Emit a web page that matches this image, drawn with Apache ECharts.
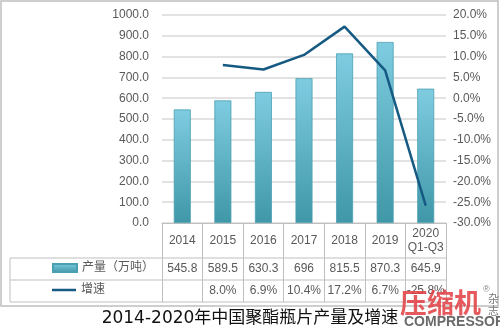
<!DOCTYPE html>
<html>
<head>
<meta charset="utf-8">
<script src="https://cdn.jsdelivr.net/npm/echarts@6/dist/echarts.min.js"></script>
<style>
  html, body { margin: 0; padding: 0; background: #fff; }
  #chart { width: 500px; height: 328px; }
</style>
</head>
<body>
<div id="chart"></div>
<script>
// Categories (years) and the two series
const categories = ['2014', '2015', '2016', '2017', '2018', '2019', '2020\nQ1-Q3'];
const production = [545.8, 589.5, 630.3, 696, 815.5, 870.3, 645.9];   // 产量（万吨）
const growth = [null, 8.0, 6.9, 10.4, 17.2, 6.7, -25.8];              // 增速 (%)

// Axis scales
const leftAxis = { min: 0, max: 1000, interval: 100 };
const rightAxis = { min: -30, max: 20, interval: 5 };

const TEXT = '#595959';
const RULE = '#bfbfbf';
const FONT = 'Liberation Sans, Arial, Noto Sans CJK SC, sans-serif';

const G = { left: 162, right: 54, top: 15, bottom: 105 };
const W = 500, H = 328;
const tableTop = H - G.bottom;       // top edge of the data table (x axis line)
const rowY = [258, 280, 302];         // horizontal rules of the table
const tableLeft = 10, tableRight = W - G.right;

const fmtGrowth = v => (v === null || v === undefined) ? '' : v.toFixed(1) + '%';

const chart = echarts.init(document.getElementById('chart'), null, { renderer: 'canvas' });

const hiddenAxis = {
  type: 'category', data: categories, position: 'bottom', gridIndex: 0,
  axisLine: { show: false }, axisTick: { show: false }, splitLine: { show: false }
};

chart.setOption({
  animation: false,
  backgroundColor: '#fff',
  textStyle: { fontFamily: FONT },
  title: {
    text: '2014-2020年中国聚酯瓶片产量及增速',
    left: 'center', top: 305,
    textStyle: { fontFamily: 'DejaVu Sans, Noto Sans CJK SC, sans-serif', fontSize: 17, fontWeight: 'normal', color: '#111' }
  },
  legend: [
    {
      data: [{ name: '产量（万吨）', icon: 'rect' }], left: 52, top: 262, padding: 0,
      itemWidth: 24, itemHeight: 8, textStyle: { color: TEXT, fontSize: 12, fontFamily: FONT }
    },
    {
      data: [{ name: '增速', icon: 'rect' }], left: 52, top: 284, padding: 0,
      itemWidth: 24, itemHeight: 2.5, textStyle: { color: TEXT, fontSize: 12, fontFamily: FONT }
    }
  ],
  grid: { left: G.left, right: G.right, top: G.top, bottom: G.bottom, containLabel: false },
  xAxis: [
    {
      type: 'category', data: categories, position: 'bottom',
      axisLine: { show: true, lineStyle: { color: RULE, width: 1 } },
      axisTick: { show: true, length: rowY[2] - tableTop, lineStyle: { color: RULE, width: 1 } },
      axisLabel: { interval: 0, color: TEXT, fontSize: 12, margin: 18, verticalAlign: 'middle', lineHeight: 14, fontFamily: FONT }
    },
    Object.assign({}, hiddenAxis, {
      axisLabel: { interval: 0, color: TEXT, fontSize: 12, margin: 46, verticalAlign: 'middle', fontFamily: FONT,
        formatter: (v, i) => String(production[i]) }
    }),
    Object.assign({}, hiddenAxis, {
      axisLabel: { interval: 0, color: TEXT, fontSize: 12, margin: 68, verticalAlign: 'middle', fontFamily: FONT,
        formatter: (v, i) => fmtGrowth(growth[i]) }
    })
  ],
  yAxis: [
    {
      type: 'value', min: leftAxis.min, max: leftAxis.max, interval: leftAxis.interval,
      axisLine: { show: false }, axisTick: { show: false },
      axisLabel: { color: TEXT, fontSize: 12, margin: 13, fontFamily: FONT, formatter: v => v.toFixed(1) },
      splitLine: { show: true, lineStyle: { color: '#d9d9d9', width: 1.5 } }
    },
    {
      type: 'value', min: rightAxis.min, max: rightAxis.max, interval: rightAxis.interval,
      axisLine: { show: false }, axisTick: { show: false },
      axisLabel: { color: TEXT, fontSize: 12, margin: 7, fontFamily: FONT, formatter: v => v.toFixed(1) + '%' },
      splitLine: { show: false }
    }
  ],
  series: [
    {
      name: '产量（万吨）', type: 'bar', data: production, barWidth: 17,
      itemStyle: {
        color: new echarts.graphic.LinearGradient(0, 0, 0, 1, [
          { offset: 0, color: '#7fcce1' },
          { offset: 1, color: '#3f97a7' }
        ]),
        borderColor: '#4b9fb2', borderWidth: 0.8
      }
    },
    {
      name: '增速', type: 'line', yAxisIndex: 1, data: growth,
      symbol: 'none', lineStyle: { color: '#165a83', width: 2.5 }, itemStyle: { color: '#165a83' }
    }
  ],
  graphic: [
    // outer frame
    { type: 'rect', shape: { x: 1, y: 1, width: 497, height: 305 }, style: { fill: null, stroke: RULE, lineWidth: 1.5 }, silent: true },
    // table rules
    { type: 'line', shape: { x1: tableLeft, y1: rowY[0], x2: tableRight, y2: rowY[0] }, style: { stroke: RULE, lineWidth: 1 } },
    { type: 'line', shape: { x1: tableLeft, y1: rowY[1], x2: tableRight, y2: rowY[1] }, style: { stroke: RULE, lineWidth: 1 } },
    { type: 'line', shape: { x1: tableLeft, y1: rowY[2], x2: tableRight, y2: rowY[2] }, style: { stroke: RULE, lineWidth: 1 } },
    { type: 'line', shape: { x1: tableLeft, y1: rowY[0], x2: tableLeft, y2: rowY[2] }, style: { stroke: RULE, lineWidth: 1 } },
    // publisher mark
    { type: 'text', left: 400, top: 289, z: 100, style: { text: '压缩机', fill: 'rgba(226,60,64,0.85)', font: 'bold 27px "Noto Sans CJK SC", sans-serif' } },
    { type: 'text', left: 483, top: 285, z: 100, style: { text: '®', fill: '#888', font: '9px "Liberation Sans", sans-serif' } },
    { type: 'text', left: 488, top: 293, z: 100, style: { text: '杂\n志', fill: '#777', font: '11px "Noto Sans CJK SC", sans-serif', lineHeight: 12 } },
    { type: 'text', left: 404, top: 315, z: 100, style: { text: 'COMPRESSOR', fill: '#6a6a6a', font: 'bold 14px "Liberation Sans", sans-serif' } }
  ]
});
</script>
</body>
</html>
